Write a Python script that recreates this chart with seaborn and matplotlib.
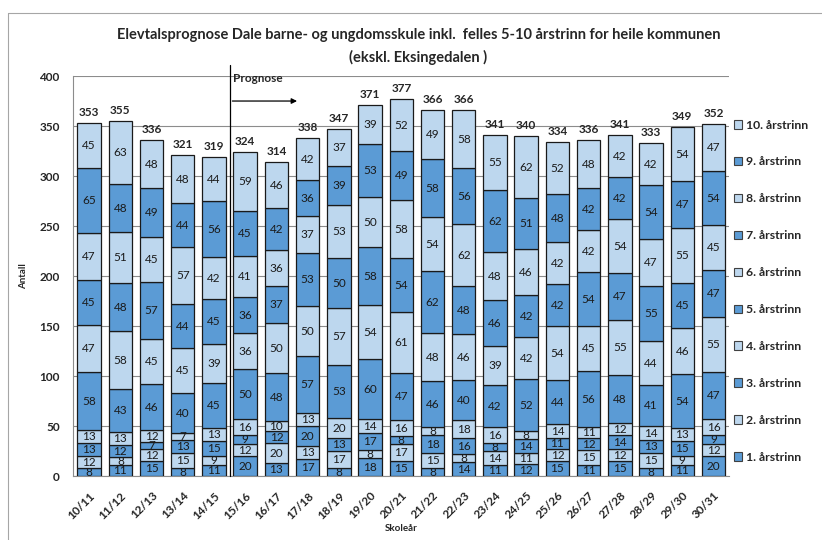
import numpy as np
import pandas as pd
import matplotlib
matplotlib.use("Agg")
import matplotlib.pyplot as plt
from matplotlib.patches import Patch
import seaborn as sns

# Skoleår og elevtal per årstrinn (nedst = 1. årstrinn)
years = ['10/11', '11/12', '12/13', '13/14', '14/15', '15/16', '16/17', '17/18',
         '18/19', '19/20', '20/21', '21/22', '22/23', '23/24', '24/25', '25/26',
         '26/27', '27/28', '28/29', '29/30', '30/31']
trinn1 = [8, 11, 15, 8, 11, 20, 13, 17, 8, 18, 15, 8, 14, 11, 12, 15, 11, 15, 8, 11, 20]
trinn2 = [12, 8, 12, 15, 9, 12, 20, 13, 17, 8, 17, 15, 8, 14, 11, 12, 15, 12, 15, 9, 12]
trinn3 = [13, 12, 7, 13, 15, 9, 12, 20, 13, 17, 8, 18, 16, 8, 14, 11, 12, 14, 13, 15, 9]
trinn4 = [13, 13, 12, 7, 13, 16, 10, 13, 20, 14, 16, 8, 18, 16, 8, 14, 11, 12, 14, 13, 16]
trinn5 = [58, 43, 46, 40, 45, 50, 48, 57, 53, 60, 47, 46, 40, 42, 52, 44, 56, 48, 41, 54, 47]
trinn6 = [47, 58, 45, 45, 39, 36, 50, 50, 57, 54, 61, 48, 46, 39, 42, 54, 45, 55, 44, 46, 55]
trinn7 = [45, 48, 57, 44, 45, 36, 37, 53, 50, 58, 54, 62, 48, 46, 42, 42, 54, 47, 55, 45, 47]
trinn8 = [47, 51, 45, 57, 42, 41, 36, 37, 53, 50, 58, 54, 62, 48, 46, 42, 42, 54, 47, 55, 45]
trinn9 = [65, 48, 49, 44, 56, 45, 42, 36, 39, 53, 49, 58, 56, 62, 51, 48, 42, 42, 54, 47, 54]
trinn10 = [45, 63, 48, 48, 44, 59, 46, 42, 37, 39, 52, 49, 58, 55, 62, 52, 48, 42, 42, 54, 47]
grade_labels = ['1. årstrinn', '2. årstrinn', '3. årstrinn', '4. årstrinn', '5. årstrinn',
                '6. årstrinn', '7. årstrinn', '8. årstrinn', '9. årstrinn', '10. årstrinn']

sns.set_style('white')
plt.rcParams['font.family'] = ['Lato', 'DejaVu Sans']

counts = np.array([trinn1, trinn2, trinn3, trinn4, trinn5,
                   trinn6, trinn7, trinn8, trinn9, trinn10])
n = len(years)

df = pd.DataFrame({
    'pos': np.tile(np.arange(n), len(grade_labels)),
    'trinn': np.repeat(grade_labels, n),
    'antall': counts.ravel(),
})

light = '#BDD7EE'
dark = '#5B9BD5'
palette = {lab: (dark if i % 2 == 0 else light) for i, lab in enumerate(grade_labels)}

fig = plt.figure(figsize=(8.22, 5.4), dpi=100)
ax = fig.add_axes([0.0894, 0.1185, 0.7976, 0.7407])

sns.histplot(data=df, x='pos', weights='antall', hue='trinn',
             hue_order=grade_labels[::-1], multiple='stack', discrete=True,
             shrink=0.75, palette=palette, alpha=1, edgecolor='#1a1a1a',
             linewidth=0.9, legend=False, ax=ax, zorder=3)

# Tal inne i kvar del av søyla
cum = np.cumsum(counts, axis=0)
for i in range(counts.shape[0]):
    for j in range(n):
        ax.text(j, cum[i, j] - counts[i, j] / 2, str(counts[i, j]),
                ha='center', va='center', fontsize=8.5, color='#1a1a1a', zorder=5)

# Sum over søylene
totals = cum[-1]
for j in range(n):
    ax.text(j, totals[j] + 5, str(totals[j]), ha='center', va='bottom',
            fontsize=8.5, fontweight='bold', zorder=5)

# Aksar
ax.set_xlim(-0.5, n - 0.5)
ax.set_ylim(0, 400)
ax.set_yticks(range(0, 401, 50))
ax.yaxis.grid(True, color='#8c8c8c', linewidth=0.8, zorder=0)
ax.set_axisbelow(True)
ax.set_xticks(range(n))
ax.set_xticklabels(years, rotation=45, ha='right', rotation_mode='anchor',
                   fontsize=8.5, fontweight='bold')
ax.set_xticks(np.arange(-0.5, n, 1), minor=True)
ax.tick_params(axis='x', which='major', length=0, pad=10)
ax.tick_params(axis='x', which='minor', length=5, color='#8c8c8c', direction='out')
ax.tick_params(axis='y', length=4, color='#8c8c8c', direction='out', labelsize=8.5, pad=6)
for lab in ax.get_yticklabels():
    lab.set_fontweight('bold')
for side in ['top', 'right']:
    ax.spines[side].set_visible(False)
for side in ['left', 'bottom']:
    ax.spines[side].set_color('#8c8c8c')
    ax.spines[side].set_linewidth(0.8)
ax.set_xlabel('Skoleår', fontsize=7, fontweight='bold', labelpad=2)
ax.set_ylabel('Antall', fontsize=7, fontweight='bold', labelpad=8)

# Prognose-markering
ax.plot([4.5, 4.5], [0, 411], color='black', linewidth=0.9, clip_on=False, zorder=6)
ax.text(4.62, 398, 'Prognose', fontsize=8.5, fontweight='bold', va='center', ha='left')
ax.annotate('', xy=(6.75, 375), xytext=(4.5, 375),
            arrowprops=dict(arrowstyle='-|>', color='black', lw=0.9, mutation_scale=8))

# Tittel
fig.text(0.509, 0.935, 'Elevtalsprognose Dale barne- og ungdomsskule inkl.  felles 5-10 årstrinn for heile kommunen',
         ha='center', va='center', fontsize=10.5, fontweight='bold')
fig.text(0.509, 0.894, '(ekskl. Eksingedalen )', ha='center', va='center',
         fontsize=10.5, fontweight='bold')

# Teiknforklaring
handles = [Patch(facecolor=palette[lab], edgecolor='#404040', linewidth=0.8)
           for lab in grade_labels[::-1]]
leg = fig.legend(handles, grade_labels[::-1], loc='upper left',
                 bbox_to_anchor=(0.885, 0.79), frameon=False, fontsize=8.8,
                 handlelength=0.7, handleheight=0.7, handletextpad=0.35,
                 labelspacing=2.12, borderpad=0)
for t in leg.get_texts():
    t.set_fontweight('bold')

# Ramme rundt diagrammet
fig.add_artist(plt.Line2D([8 / 822, 8 / 822], [0, 1 - 13 / 540], color='#a6a6a6', lw=0.8))
fig.add_artist(plt.Line2D([8 / 822, 1], [1 - 13 / 540, 1 - 13 / 540], color='#a6a6a6', lw=0.8))

fig.savefig('out.png', dpi=100)
